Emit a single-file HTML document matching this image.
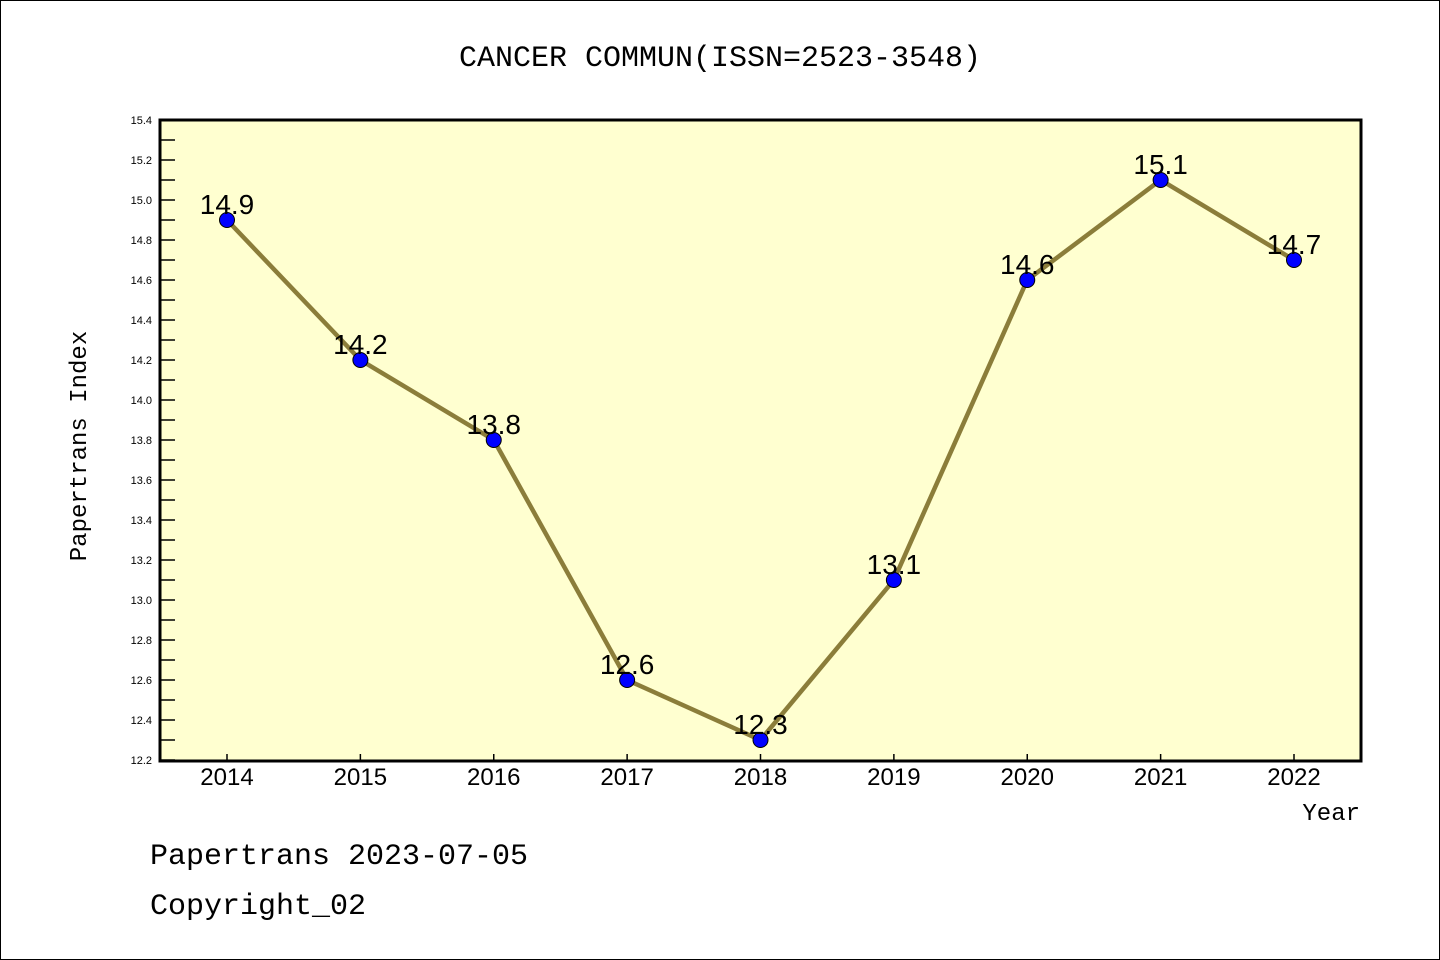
<!DOCTYPE html>
<html><head><meta charset="utf-8"><style>
body{margin:0;background:#fff}
svg{display:block}
text{font-family:"Liberation Mono","DejaVu Sans Mono",monospace}
text.s{font-family:"Liberation Sans","DejaVu Sans",sans-serif}
</style></head><body>
<svg id="c" width="1440" height="960" viewBox="0 0 1440 960">
<rect x="0.5" y="0.5" width="1439" height="959" fill="#fff" stroke="#000"/>
<text x="720" y="66" font-size="30" text-anchor="middle">CANCER COMMUN(ISSN=2523-3548)</text>
<rect x="160" y="120" width="1201" height="641" fill="#ffffd0"/>
<g id="ax"></g>
<g id="marks"></g>
<rect x="160" y="120" width="1201" height="641" fill="none" stroke="#000" stroke-width="3"/>
<text x="86" y="446" font-size="24" text-anchor="middle" transform="rotate(-90 86 446)">Papertrans Index</text>
<text x="1360" y="820" font-size="24" text-anchor="end">Year</text>
<text x="150" y="864" font-size="30">Papertrans 2023-07-05</text>
<text x="150" y="914" font-size="30">Copyright_02</text>
</svg>
<script>
const years=["2014","2015","2016","2017","2018","2019","2020","2021","2022"];
const values=[14.9,14.2,13.8,12.6,12.3,13.1,14.6,15.1,14.7];
const labels=["14.9","14.2","13.8","12.6","12.3","13.1","14.6","15.1","14.7"];
const yTicks=["12.2","12.4","12.6","12.8","13.0","13.2","13.4","13.6","13.8","14.0","14.2","14.4","14.6","14.8","15.0","15.2","15.4"];
const yMin=12.2,yMax=15.4;
const NS="http://www.w3.org/2000/svg";
function X(i){return 227+i*(1294-227)/(years.length-1);}
function Y(v){return 760-(v-yMin)/(yMax-yMin)*640;}
function mk(t,a,p){const e=document.createElementNS(NS,t);for(const k in a)e.setAttribute(k,a[k]);p.appendChild(e);return e;}
const ax=document.getElementById('ax'),mg=document.getElementById('marks');
yTicks.forEach((t,i)=>{const v=parseFloat(t),y=Y(v);
 const l=mk('line',{x1:160,x2:175,y1:y,y2:y,stroke:'#000','stroke-width':1.5},ax);
 
 
 const tx=mk('text',{x:152,y:y+4,'font-size':11,'text-anchor':'end',class:'s'},ax);tx.textContent=t;
 
 
 if(i<yTicks.length-1){const ym=Y(v+0.1);
  const m=mk('line',{x1:160,x2:175,y1:ym,y2:ym,stroke:'#000','stroke-width':1.5},ax);
  
  }
});
years.forEach((yr,i)=>{const x=X(i);
 const l=mk('line',{x1:x,x2:x,y1:754,y2:761,stroke:'#000','stroke-width':1.5},ax);
 
 
 const t=mk('text',{x:x,y:785,'font-size':24,'text-anchor':'middle',class:'s'},ax);t.textContent=yr;
 
 
});
const pl=mk('polyline',{points:values.map((v,i)=>X(i)+','+Y(v)).join(' '),fill:'none',stroke:'#8b7d3a','stroke-width':4.5},mg);


values.forEach((v,i)=>{
 const c=mk('circle',{cx:X(i),cy:Y(v),r:7.5,fill:'#0000ff',stroke:'#000','stroke-width':1},mg);
 
 
 const t=mk('text',{x:X(i),y:Y(v)-6,'font-size':28,'text-anchor':'middle',class:'s'},mg);t.textContent=labels[i];
 
 
});
</script>
</body></html>
